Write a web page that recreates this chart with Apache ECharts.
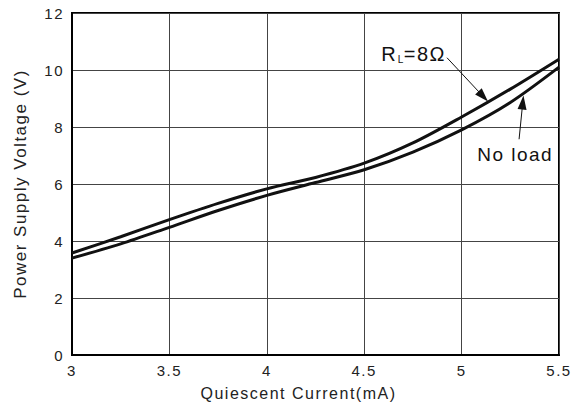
<!DOCTYPE html>
<html><head><meta charset="utf-8">
<script src="https://cdn.jsdelivr.net/npm/echarts@6/dist/echarts.min.js"></script>
<style>html,body{margin:0;padding:0;background:#fff}#c{width:578px;height:406px}#c svg text{letter-spacing:1.5px}</style>
</head><body><div id="c"></div>
<script>
var xTicks = [3, 3.5, 4, 4.5, 5, 5.5];
var yTicks = [0, 2, 4, 6, 8, 10, 12];
var currentX = [3, 3.25, 3.5, 3.75, 4, 4.25, 4.5, 4.75, 5, 5.25, 5.5];
var rl8Ohm = [3.58, 4.15, 4.75, 5.32, 5.83, 6.23, 6.73, 7.44, 8.35, 9.33, 10.38];
var noLoad = [3.4, 3.9, 4.48, 5.07, 5.6, 6.05, 6.5, 7.12, 7.9, 8.86, 10.1];
var labelRL = {x: 4.75, y: 10.55};
var arrowRL = [[4.925, 10.43], [5.111, 9.07]];
var labelNL = {x: 5.275, y: 7.05};
var arrowNL = [[5.295, 7.57], [5.314, 8.86]];

var font = 'Liberation Sans, Arial, sans-serif';
function pairs(xs, ys){ return xs.map(function(x,i){return [x, ys[i]];}); }
function arrow(a){
  return [[{coord: a[0], symbol: 'none', symbolSize: 0}, {coord: a[1], symbol: 'triangle', symbolSize: [9, 14]}]];
}

var chart = echarts.init(document.getElementById('c'), null, {renderer: 'svg'});
chart.setOption({
  animation: false,
  backgroundColor: '#fff',
  grid: {left: 72, right: 19, top: 13, bottom: 49, show: true, borderColor: '#000', borderWidth: 2, backgroundColor: 'transparent'},
  xAxis: {
    type: 'value', min: xTicks[0], max: xTicks[xTicks.length-1], interval: 0.5,
    name: 'Quiescent Current(mA)', nameLocation: 'middle', nameGap: 30,
    nameTextStyle: {fontFamily: font, fontSize: 16, color: '#222', padding: [0, 34, 0, 0]},
    axisLine: {show: true, lineStyle: {color: '#000', width: 2}},
    axisTick: {show: false},
    axisLabel: {fontFamily: font, fontSize: 15, color: '#222', margin: 8},
    splitLine: {show: true, lineStyle: {color: '#444', width: 1}}
  },
  yAxis: {
    type: 'value', min: yTicks[0], max: yTicks[yTicks.length-1], interval: 2,
    name: 'Power Supply Voltage (V)', nameLocation: 'middle', nameGap: 43,
    nameTextStyle: {fontFamily: font, fontSize: 17, color: '#222'},
    axisLine: {show: true, lineStyle: {color: '#000', width: 2}},
    axisTick: {show: false},
    axisLabel: {fontFamily: font, fontSize: 15, color: '#222', margin: 8},
    splitLine: {show: true, lineStyle: {color: '#444', width: 1}}
  },
  series: [
    {
      name: 'RL=8Ω', type: 'line', data: pairs(currentX, rl8Ohm), smooth: 0.3,
      showSymbol: false, lineStyle: {color: '#111', width: 3},
      markLine: {
        silent: true, symbol: ['none', 'triangle'], symbolSize: 12,
        lineStyle: {color: '#111', width: 1, type: 'solid'}, itemStyle: {color: '#111'}, label: {show: false},
        data: arrow(arrowRL)
      },
      markPoint: {
        symbol: 'circle', symbolSize: 0, silent: true,
        label: {
          show: true, formatter: '{r|R}{b|L}{a|=8Ω}', color: '#111',
          rich: {
            r: {fontFamily: font, fontSize: 20, color: '#111', padding: [0, 2, 0, 0]},
            a: {fontFamily: font, fontSize: 20, color: '#111'},
            b: {fontFamily: font, fontSize: 10, color: '#111', verticalAlign: 'bottom', padding: [9, 2, 0, 0]}
          }
        },
        data: [{coord: [labelRL.x, labelRL.y]}]
      }
    },
    {
      name: 'No load', type: 'line', data: pairs(currentX, noLoad), smooth: 0.3,
      showSymbol: false, lineStyle: {color: '#111', width: 3},
      markLine: {
        silent: true, symbol: ['none', 'triangle'], symbolSize: 12,
        lineStyle: {color: '#111', width: 1, type: 'solid'}, itemStyle: {color: '#111'}, label: {show: false},
        data: arrow(arrowNL)
      },
      markPoint: {
        symbol: 'circle', symbolSize: 0, silent: true,
        label: {show: true, formatter: 'No load', fontFamily: font, fontSize: 19, color: '#111'},
        data: [{coord: [labelNL.x, labelNL.y]}]
      }
    }
  ]
});
</script></body></html>
